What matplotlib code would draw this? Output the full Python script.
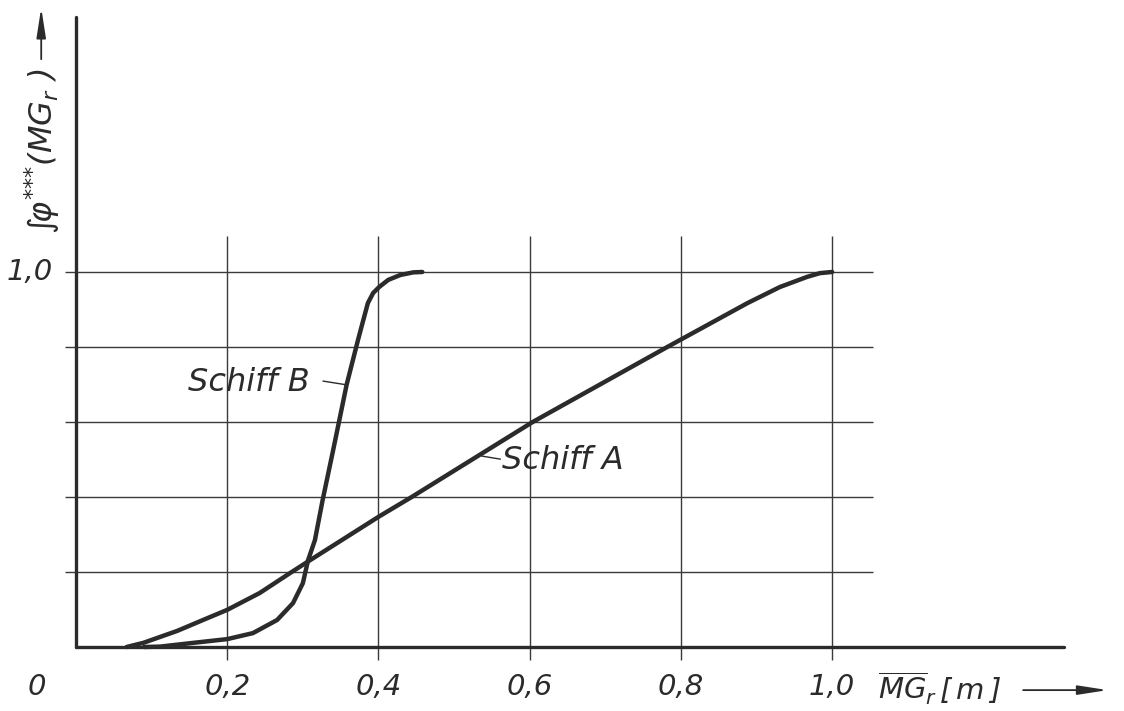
import matplotlib.pyplot as plt
import matplotlib as mpl

# values
xticks = [0.2, 0.4, 0.6, 0.8, 1.0]
yticks = [0.2, 0.4, 0.6, 0.8, 1.0]
xtick_labels = ['0,2', '0,4', '0,6', '0,8', '1,0']

# Schiff A
a_x = [0.067, 0.089, 0.134, 0.168, 0.2, 0.243, 0.283, 0.31, 0.4, 0.444, 0.604, 0.782, 0.888, 0.931, 0.967, 0.984, 1.0]
a_y = [0.0, 0.011, 0.043, 0.072, 0.099, 0.144, 0.197, 0.232, 0.347, 0.4, 0.6, 0.8, 0.917, 0.96, 0.987, 0.997, 1.0]

# Schiff B
b_x = [0.09, 0.111, 0.155, 0.2, 0.234, 0.266, 0.287, 0.30, 0.307, 0.316, 0.326, 0.34, 0.358, 0.373, 0.38,
       0.386, 0.393, 0.401, 0.413, 0.429, 0.446, 0.458]
b_y = [0.0, 0.001, 0.011, 0.021, 0.037, 0.072, 0.117, 0.17, 0.232, 0.285, 0.39, 0.524, 0.70, 0.819, 0.872,
       0.917, 0.944, 0.96, 0.979, 0.992, 0.999, 1.0]

mpl.rcParams['font.family'] = 'DejaVu Sans'
mpl.rcParams['font.style'] = 'italic'
mpl.rcParams['mathtext.fontset'] = 'custom'
mpl.rcParams['mathtext.rm'] = 'DejaVu Sans:italic'
mpl.rcParams['mathtext.it'] = 'DejaVu Sans:italic'
mpl.rcParams['mathtext.sf'] = 'DejaVu Sans:italic'

ink = '#2b2b2b'
grid_c = '#3a3a3a'

fig = plt.figure(figsize=(11.24, 7.11), dpi=100)
ax = fig.add_axes([0, 0, 1, 1])
ax.set_xlim(-0.1005, 1.386)
ax.set_ylim(-0.1707, 1.7253)
ax.axis('off')

# grid
ax.vlines(xticks, -0.035, 1.096, color=grid_c, lw=1.0)
ax.hlines(yticks, -0.015, 1.054, color=grid_c, lw=1.0)

# axes
ax.plot([0, 1.306], [0, 0], color=ink, lw=2.4, solid_capstyle='round')
ax.plot([0, 0], [0, 1.68], color=ink, lw=2.4, solid_capstyle='round')

# curves
ax.plot(a_x, a_y, color=ink, lw=3.2, solid_capstyle='round', solid_joinstyle='round')
ax.plot(b_x, b_y, color=ink, lw=3.2, solid_capstyle='round', solid_joinstyle='round')

# tick labels
for x, lab in zip(xticks, xtick_labels):
    ax.text(x, -0.108, lab, fontsize=21, ha='center', va='center', color=ink)
ax.text(-0.052, -0.108, '0', fontsize=21, ha='center', va='center', color=ink)
ax.text(-0.03, 1.0, '1,0', fontsize=21, ha='right', va='center', color=ink)

# curve labels with leaders
ax.text(0.148, 0.704, 'Schiff B', fontsize=23, ha='left', va='center', color=ink)
ax.plot([0.327, 0.358], [0.709, 0.699], color=ink, lw=1.0)
ax.text(0.563, 0.496, 'Schiff A', fontsize=23, ha='left', va='center', color=ink)
ax.plot([0.537, 0.561], [0.509, 0.501], color=ink, lw=1.0)

# axis titles with arrows
ax.text(1.061, -0.11, r'$\overline{\mathrm{MG}}_{\mathrm{r}}\,\mathrm{[\,m\,]}$', fontsize=21,
        ha='left', va='center', color=ink)
ax.annotate('', xy=(1.368, -0.115), xytext=(1.249, -0.115),
            arrowprops=dict(arrowstyle='-|>,head_length=1.8,head_width=0.28', color=ink, lw=1.3))

ax.text(-0.045, 1.323, r'$\int\!\varphi^{{*}{*}{*}}(\mathrm{MG_r}\ )$', fontsize=23, rotation=90,
        ha='center', va='center', color=ink)
ax.annotate('', xy=(-0.046, 1.712), xytext=(-0.046, 1.56),
            arrowprops=dict(arrowstyle='-|>,head_length=1.8,head_width=0.28', color=ink, lw=1.3))

fig.savefig('out.png', dpi=100, facecolor='white')
